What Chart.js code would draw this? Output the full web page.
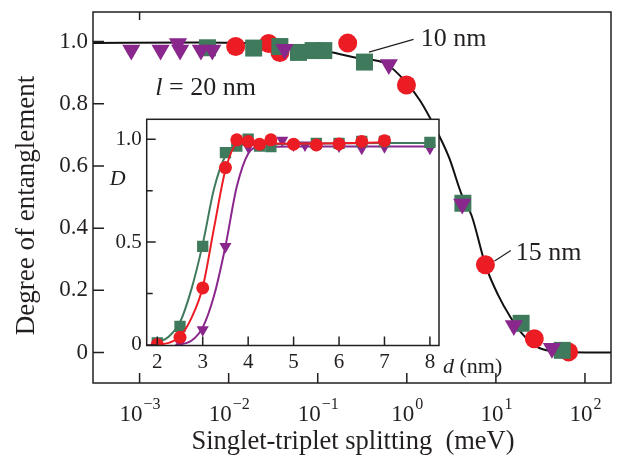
<!DOCTYPE html>
<html>
<head>
<meta charset="utf-8">
<script src="https://cdn.jsdelivr.net/npm/chart.js@4.4.1/dist/chart.umd.min.js"></script>
<style>
  html, body { margin: 0; padding: 0; background: #fff; }
  #wrap { position: relative; width: 623px; height: 460px; }
  #main { position: absolute; left: 0; top: 0; }
  #inset { position: absolute; left: 100px; top: 110px; }
</style>
</head>
<body>
<div id="wrap">
  <canvas id="main" width="623" height="460"></canvas>
  <canvas id="inset" width="420" height="275"></canvas>
</div>
<script>
// main panel: degree of entanglement vs singlet-triplet splitting (meV)
const redSplit = [0.0120, 0.0281, 0.0376, 0.217, 0.991, 7.63, 27.0, 65.5];
const redDeg = [0.984, 0.994, 0.965, 0.995, 0.860, 0.282, 0.044, 0.002];
const greenSplit = [0.00578, 0.0191, 0.0376, 0.0608, 0.0887, 0.117, 0.335, 4.26, 19.2, 55.6];
const greenDeg = [0.980, 0.979, 0.984, 0.965, 0.971, 0.971, 0.934, 0.480, 0.094, 0.007];
const purpleSplit = [0.000807, 0.00172, 0.00270, 0.00285, 0.00488, 0.00655, 0.0424, 0.628, 4.19, 15.9, 42.6];
const purpleDeg = [0.973, 0.973, 0.994, 0.973, 0.973, 0.973, 0.975, 0.926, 0.478, 0.087, 0.014];
// fitted curve
const fitSplit = [3.0e-4, 4.49e-3, 0.0159, 0.0564, 0.130, 0.277, 0.593, 0.982, 1.40, 1.95, 2.97, 4.15, 5.36, 7.62, 10.5, 14.7, 20.5, 29.0, 40.6, 56.5, 196];
const fitDeg = [0.995, 0.997, 0.995, 0.984, 0.968, 0.947, 0.927, 0.869, 0.811, 0.738, 0.628, 0.506, 0.439, 0.282, 0.187, 0.112, 0.055, 0.018, 0.005, 0.002, 0.0];

const mainXTicks = [1e-3, 1e-2, 1e-1, 1, 10, 100];
const mainXExp = ['\u22123', '\u22122', '\u22121', '0', '1', '2'];
const mainTopTicks = [1e-3];
const mainYTicks = [0, 0.2, 0.4, 0.6, 0.8, 1.0];
const mainYLabels = ['0', '0.2', '0.4', '0.6', '0.8', '1.0'];

// inset: D vs d (nm)
const insetRedD = [2, 2.5, 3, 3.5, 3.75, 4, 4.25, 4.5, 5, 5.5, 6, 6.5, 7];
const insetRedV = [0.002, 0.037, 0.277, 0.862, 0.997, 0.989, 0.976, 0.997, 0.976, 0.972, 0.977, 0.989, 0.993];
const insetGreenD = [2, 2.5, 3, 3.5, 3.75, 4, 4.25, 4.5, 5.5, 6, 6.5, 7, 8];
const insetGreenV = [0.01, 0.09, 0.479, 0.935, 0.967, 1.0, 0.967, 0.964, 0.98, 0.98, 0.989, 0.989, 0.985];
const insetPurpleD = [2.5, 3, 3.5, 4, 4.75, 5, 5.25, 6, 6.5, 7, 8];
const insetPurpleV = [0.01, 0.074, 0.479, 0.964, 0.995, 0.972, 0.972, 0.967, 0.956, 0.964, 0.956];
const redFitD = [2, 2.25, 2.5, 2.75, 3, 3.25, 3.5, 3.75, 4, 5, 6, 7];
const redFitV = [0.0, 0.01, 0.04, 0.13, 0.28, 0.57, 0.85, 0.975, 0.98, 0.978, 0.98, 0.985];
const greenFitD = [2, 2.25, 2.5, 2.75, 3, 3.25, 3.5, 3.75, 4, 5, 6, 7, 8];
const greenFitV = [0.01, 0.04, 0.11, 0.27, 0.49, 0.76, 0.92, 0.97, 0.975, 0.978, 0.98, 0.982, 0.982];
const purpleFitD = [2.4, 2.75, 3, 3.25, 3.5, 3.75, 4, 4.25, 5, 6, 7, 8];
const purpleFitV = [0.0, 0.02, 0.085, 0.24, 0.48, 0.77, 0.93, 0.962, 0.965, 0.965, 0.965, 0.965];

const insetXTicks = [2, 3, 4, 5, 6, 7, 8];
const insetYTicks = [0, 0.5, 1.0];
const insetYLabels = ['0', '0.5', '1.0'];
const insetYMinor = [0.25, 0.75];

const RED = '#ec1c24';
const GREEN = '#3f7a5c';
const PURPLE = '#8a278c';
const INK = '#231f20';
const SERIF = '"Liberation Serif", "Times New Roman", serif';

function pts(xs, ys) {
  return xs.map((x, i) => ({ x: x, y: ys[i] }));
}

// frame, inward ticks, labels and titles drawn from the chart's own scales
const mainAxes = {
  id: 'mainAxes',
  afterDraw(chart) {
    const ctx = chart.ctx;
    const a = chart.chartArea;
    const sx = chart.scales.x, sy = chart.scales.y;
    ctx.save();
    ctx.strokeStyle = INK;
    ctx.lineWidth = 1.5;
    ctx.strokeRect(a.left, a.top, a.right - a.left, a.bottom - a.top);
    ctx.beginPath();
    mainXTicks.forEach(v => {
      const px = sx.getPixelForValue(v);
      ctx.moveTo(px, a.bottom); ctx.lineTo(px, a.bottom - 10);
    });
    mainTopTicks.forEach(v => {
      const px = sx.getPixelForValue(v);
      ctx.moveTo(px, a.top); ctx.lineTo(px, a.top + 8);
    });
    mainYTicks.forEach(v => {
      const py = sy.getPixelForValue(v);
      ctx.moveTo(a.left, py); ctx.lineTo(a.left + 11, py);
    });
    ctx.stroke();

    ctx.fillStyle = INK;
    ctx.textBaseline = 'middle';
    ctx.textAlign = 'right';
    ctx.font = '23px ' + SERIF;
    mainYTicks.forEach((v, i) => {
      ctx.fillText(mainYLabels[i], a.left - 5, sy.getPixelForValue(v));
    });

    ctx.textBaseline = 'alphabetic';
    ctx.textAlign = 'left';
    mainXTicks.forEach((v, i) => {
      const px = sx.getPixelForValue(v);
      ctx.font = '23px ' + SERIF;
      const wb = ctx.measureText('10').width;
      ctx.font = '16px ' + SERIF;
      const we = ctx.measureText(mainXExp[i]).width;
      const x0 = px - (wb + we) / 2;
      ctx.font = '23px ' + SERIF;
      ctx.fillText('10', x0, a.bottom + 38);
      ctx.font = '16px ' + SERIF;
      ctx.fillText(mainXExp[i], x0 + wb + 1, a.bottom + 26);
    });

    ctx.font = '26.5px ' + SERIF;
    ctx.textAlign = 'center';
    ctx.fillText('Singlet-triplet splitting  (meV)', (a.left + a.right) / 2 + 1, a.bottom + 66);
    ctx.save();
    ctx.font = '27px ' + SERIF;
    ctx.translate(34, (a.top + a.bottom) / 2 + 8);
    ctx.rotate(-Math.PI / 2);
    ctx.fillText('Degree of entanglement', 0, 0);
    ctx.restore();

    // annotations
    ctx.font = '26px ' + SERIF;
    ctx.textAlign = 'left';
    ctx.fillText('10 nm', sx.getPixelForValue(1.436), sy.getPixelForValue(0.987));
    ctx.fillText('15 nm', sx.getPixelForValue(16.7), sy.getPixelForValue(0.296));
    const lx = sx.getPixelForValue(1.50e-3), ly = sy.getPixelForValue(0.827);
    ctx.font = 'italic 26px ' + SERIF;
    ctx.fillText('l', lx, ly);
    const wl = ctx.measureText('l').width;
    ctx.font = '26px ' + SERIF;
    ctx.fillText(' = 20 nm', lx + wl, ly);
    ctx.lineWidth = 1.2;
    ctx.beginPath();
    ctx.moveTo(sx.getPixelForValue(0.376), sy.getPixelForValue(0.966));
    ctx.lineTo(sx.getPixelForValue(1.19), sy.getPixelForValue(1.007));
    ctx.moveTo(sx.getPixelForValue(9.66), sy.getPixelForValue(0.294));
    ctx.lineTo(sx.getPixelForValue(14.7), sy.getPixelForValue(0.328));
    ctx.stroke();
    ctx.restore();
  }
};

const insetAxes = {
  id: 'insetAxes',
  beforeDraw(chart) {
    const a = chart.chartArea;
    chart.ctx.save();
    chart.ctx.fillStyle = '#fff';
    chart.ctx.fillRect(a.left, a.top, a.right - a.left, a.bottom - a.top);
    chart.ctx.restore();
  },
  afterDraw(chart) {
    const ctx = chart.ctx;
    const a = chart.chartArea;
    const sx = chart.scales.x, sy = chart.scales.y;
    ctx.save();
    ctx.strokeStyle = INK;
    ctx.lineWidth = 1.5;
    ctx.strokeRect(a.left, a.top, a.right - a.left, a.bottom - a.top);
    ctx.beginPath();
    insetXTicks.forEach(v => {
      const px = sx.getPixelForValue(v);
      ctx.moveTo(px, a.bottom); ctx.lineTo(px, a.bottom - 9);
    });
    insetYTicks.forEach(v => {
      const py = sy.getPixelForValue(v);
      ctx.moveTo(a.left, py); ctx.lineTo(a.left + 9, py);
    });
    insetYMinor.forEach(v => {
      const py = sy.getPixelForValue(v);
      ctx.moveTo(a.left, py); ctx.lineTo(a.left + 6, py);
    });
    ctx.stroke();

    ctx.fillStyle = INK;
    ctx.font = '21px ' + SERIF;
    ctx.textAlign = 'right';
    ctx.textBaseline = 'middle';
    insetYTicks.forEach((v, i) => {
      ctx.fillText(insetYLabels[i], a.left - 5, sy.getPixelForValue(v));
    });
    ctx.textAlign = 'center';
    ctx.textBaseline = 'alphabetic';
    insetXTicks.forEach(v => {
      ctx.fillText(String(v), sx.getPixelForValue(v), a.bottom + 22);
    });
    ctx.textAlign = 'left';
    ctx.font = 'italic 22px ' + SERIF;
    ctx.fillText('D', a.left - 37, a.top + 66);
    const dx = a.right + 4, dy = a.bottom + 27;
    ctx.fillText('d', dx, dy);
    const wd = ctx.measureText('d ').width;
    ctx.font = '22px ' + SERIF;
    ctx.fillText('(nm)', dx + wd, dy);
    ctx.restore();
  }
};

const hidden = { display: false };

new Chart(document.getElementById('main'), {
  type: 'scatter',
  data: {
    datasets: [
      { data: pts(purpleSplit, purpleDeg), pointStyle: 'triangle', rotation: 180, pointRadius: 10.5,
        backgroundColor: PURPLE, borderColor: PURPLE, borderWidth: 0, order: 1 },
      { data: pts(greenSplit, greenDeg), pointStyle: 'rect', pointRadius: 12,
        backgroundColor: GREEN, borderColor: GREEN, borderWidth: 0, order: 2 },
      { data: pts(redSplit, redDeg), pointStyle: 'circle', pointRadius: 9.5,
        backgroundColor: RED, borderColor: RED, borderWidth: 0, order: 3 },
      { data: pts(fitSplit, fitDeg), showLine: true, pointRadius: 0, borderColor: '#111',
        borderWidth: 2, cubicInterpolationMode: 'monotone', order: 4 }
    ]
  },
  options: {
    responsive: false,
    animation: false,
    events: [],
    layout: { padding: { left: 93, top: 5, right: 1, bottom: 77 } },
    plugins: { legend: hidden, tooltip: { enabled: false } },
    scales: {
      x: { type: 'logarithmic', min: 3.01e-4, max: 196, display: false },
      y: { type: 'linear', min: -0.098, max: 1.095, display: false }
    }
  },
  plugins: [mainAxes]
});

function insetSet(d, v, color, style, r) {
  return { data: pts(d, v), pointStyle: style, pointRadius: r, rotation: style === 'triangle' ? 180 : 0,
    backgroundColor: color, borderColor: color, borderWidth: 0 };
}
function insetLine(d, v, color) {
  return { data: pts(d, v), showLine: true, pointRadius: 0, borderColor: color, borderWidth: 2,
    cubicInterpolationMode: 'monotone' };
}

new Chart(document.getElementById('inset'), {
  type: 'scatter',
  data: {
    datasets: [
      Object.assign(insetSet(insetRedD, insetRedV, RED, 'circle', 6.5), { order: 1 }),
      Object.assign(insetLine(redFitD, redFitV, RED), { order: 2 }),
      Object.assign(insetSet(insetGreenD, insetGreenV, GREEN, 'rect', 8), { order: 3 }),
      Object.assign(insetLine(greenFitD, greenFitV, GREEN), { order: 4 }),
      Object.assign(insetSet(insetPurpleD, insetPurpleV, PURPLE, 'triangle', 7), { order: 5 }),
      Object.assign(insetLine(purpleFitD, purpleFitV, PURPLE), { order: 6 })
    ]
  },
  options: {
    responsive: false,
    animation: false,
    events: [],
    layout: { padding: { left: 46.7, top: 9.3, right: 81, bottom: 39.5 } },
    plugins: { legend: hidden, tooltip: { enabled: false } },
    scales: {
      x: { type: 'linear', min: 1.767, max: 8.2, display: false },
      y: { type: 'linear', min: -0.003, max: 1.097, display: false }
    }
  },
  plugins: [insetAxes]
});
</script>
</body>
</html>
